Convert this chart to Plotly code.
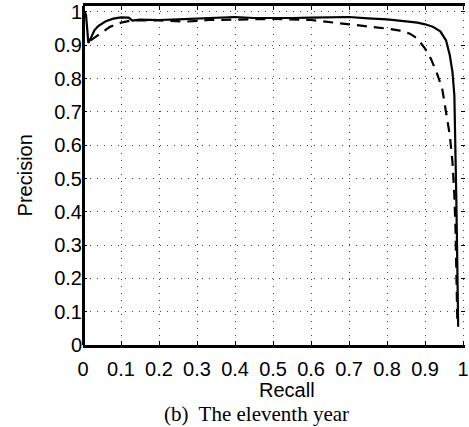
import plotly.graph_objects as go

# Solid curve
rec_solid = [0.005, 0.008, 0.011, 0.014, 0.02, 0.03, 0.04, 0.06, 0.08, 0.10, 0.12, 0.13,
             0.15, 0.2, 0.25, 0.3, 0.35, 0.4, 0.45, 0.5, 0.55, 0.6, 0.65, 0.7, 0.75, 0.8,
             0.85, 0.88, 0.9, 0.92, 0.94, 0.955, 0.965, 0.972, 0.977, 0.98, 0.982, 0.984,
             0.986, 0.987]
prec_solid = [1.0, 0.99, 0.95, 0.907, 0.92, 0.945, 0.958, 0.972, 0.98, 0.984, 0.983, 0.974,
              0.977, 0.976, 0.978, 0.98, 0.983, 0.985, 0.982, 0.981, 0.982, 0.983, 0.985,
              0.985, 0.981, 0.978, 0.972, 0.968, 0.963, 0.956, 0.942, 0.915, 0.87, 0.82,
              0.75, 0.6, 0.45, 0.3, 0.15, 0.055]

# Dashed curve
rec_dash = [0.02, 0.04, 0.07, 0.1, 0.13, 0.2, 0.27, 0.33, 0.4, 0.5, 0.6, 0.65, 0.7, 0.75,
            0.8, 0.83, 0.86, 0.88, 0.9, 0.915, 0.93, 0.945, 0.955, 0.965, 0.972, 0.977,
            0.98, 0.983, 0.985]
prec_dash = [0.915, 0.932, 0.955, 0.968, 0.975, 0.975, 0.971, 0.976, 0.978, 0.979, 0.976,
             0.97, 0.964, 0.958, 0.95, 0.945, 0.935, 0.92, 0.89, 0.86, 0.82, 0.77, 0.7,
             0.63, 0.55, 0.45, 0.35, 0.2, 0.06]

tick_vals = [0, 0.1, 0.2, 0.3, 0.4, 0.5, 0.6, 0.7, 0.8, 0.9, 1]
tick_text = ["0", "0.1", "0.2", "0.3", "0.4", "0.5", "0.6", "0.7", "0.8", "0.9", "1"]

fig = go.Figure()
fig.add_trace(go.Scatter(x=rec_solid, y=prec_solid, mode="lines",
                         line=dict(color="black", width=2.2), showlegend=False))
fig.add_trace(go.Scatter(x=rec_dash, y=prec_dash, mode="lines",
                         line=dict(color="black", width=2.2, dash="10px,7px"),
                         showlegend=False))

sans = "Liberation Sans, Arial, Helvetica, sans-serif"
axis_font = dict(family=sans, size=20, color="black")

fig.update_layout(
    width=469, height=427,
    margin=dict(l=83, r=4, t=6, b=82, autoexpand=False),
    paper_bgcolor="white", plot_bgcolor="white",
    xaxis=dict(range=[0, 1.005], tickvals=tick_vals, ticktext=tick_text,
               showgrid=True, gridcolor="#444", gridwidth=1, griddash="1px,6px",
               showline=True, linecolor="black", linewidth=2.5, mirror="ticks",
               ticks="inside", ticklen=4, tickcolor="black", tickwidth=1,
               zeroline=True, zerolinecolor="black", zerolinewidth=2.5,
               tickfont=axis_font, ticklabelstandoff=4,
               fixedrange=True, automargin=False),
    yaxis=dict(range=[0, 1.018], tickvals=tick_vals, ticktext=tick_text,
               showgrid=True, gridcolor="#444", gridwidth=1, griddash="1px,6px",
               showline=False, mirror="ticks",
               ticks="inside", ticklen=4, tickcolor="black", tickwidth=1,
               zeroline=False, tickfont=axis_font, fixedrange=True, automargin=False),
    annotations=[
        dict(text="Recall", x=0.535, y=-0.1327, xref="paper", yref="paper",
             showarrow=False, xanchor="center", yanchor="middle", borderpad=0,
             font=dict(family=sans, size=20, color="black")),
        dict(text="(b)  The eleventh year", x=0.453, y=-0.2035, xref="paper", yref="paper",
             showarrow=False, xanchor="center", yanchor="middle", borderpad=0,
             font=dict(family="Liberation Serif, Times New Roman, serif", size=21, color="black")),
        dict(text="Precision", x=-0.152, y=0.5, xref="paper", yref="paper",
             showarrow=False, xanchor="center", yanchor="middle", textangle=-90,
             font=dict(family=sans, size=20, color="black")),
    ],
)

fig.write_html("out.html", config={"displayModeBar": False},
               post_script="document.body.style.margin='0';document.body.style.padding='0';")
